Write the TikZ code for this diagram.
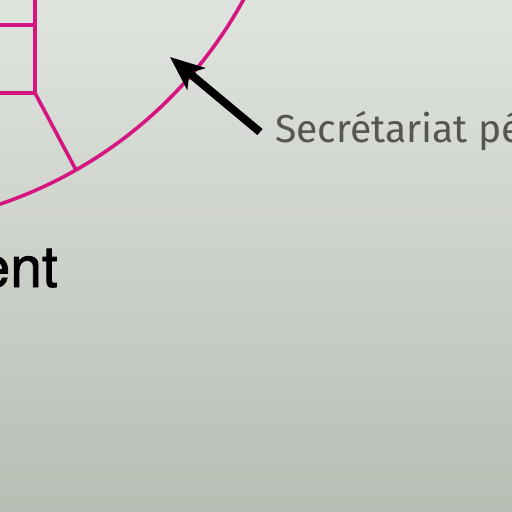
\documentclass[tikz,border=0pt]{standalone}
\usepackage{fontspec}
\usetikzlibrary{arrows.meta,positioning}
\newfontfamily\calloutfont{Fira Sans}
\newfontfamily\titlefont{TeX Gyre Heros}[FakeBold=1.5]
\definecolor{ringmagenta}{RGB}{214,22,128}
\definecolor{bgtop}{RGB}{224,228,223}
\definecolor{bgmid}{RGB}{212,217,210}
\definecolor{bgbot}{RGB}{184,190,180}
\definecolor{labelgray}{RGB}{85,85,82}
\tikzset{x=1pt,y=1pt,
  ring/.style={draw=ringmagenta,line width=3.6pt},
  wall/.style={draw=ringmagenta,line width=3.6pt},
  pointer/.style={-{Stealth[length=34pt,width=28pt,inset=9pt]},line width=8pt,draw=black},
  callout/.style={inner sep=0pt,anchor=base west,text=labelgray,
    font=\calloutfont\fontsize{39}{39}\selectfont},
  title/.style={inner sep=0pt,anchor=base east,
    font=\titlefont\fontsize{57}{57}\selectfont}}

\begin{document}
\begin{tikzpicture}
  \useasboundingbox (0,-512) rectangle (512,0);
  \clip (0,-512) rectangle (512,0);
  \shade[top color=bgtop,middle color=bgmid,bottom color=bgbot] (0,-512) rectangle (512,0);
  % plan of the floor
  \coordinate (centre) at (-140,210);
  \draw[ring] (centre) circle (437pt);
  \coordinate (wtop) at (35,2);
  \coordinate (wa) at (35,-25);
  \coordinate (wb) at (35,-93);
  \coordinate (wal) at (-2,-25);
  \coordinate (wbl) at (-2,-93);
  \coordinate (wrim) at (76,-170);
  \draw[wall] (wtop) -- (wb) -- (wrim);
  \draw[wall] (wal) -- (wa);
  \draw[wall] (wbl) -- (wb);
  % labels
  \node[callout] (secretariat) at (275,-142) {Secrétariat pé};
  \node[title] (ent) at (58,-287) {ent};
  \coordinate (arrowtail) at (260,-132);
  \coordinate (arrowtip) at (170,-57);
  \draw[pointer] (arrowtail) -- (arrowtip);
\end{tikzpicture}
\end{document}
